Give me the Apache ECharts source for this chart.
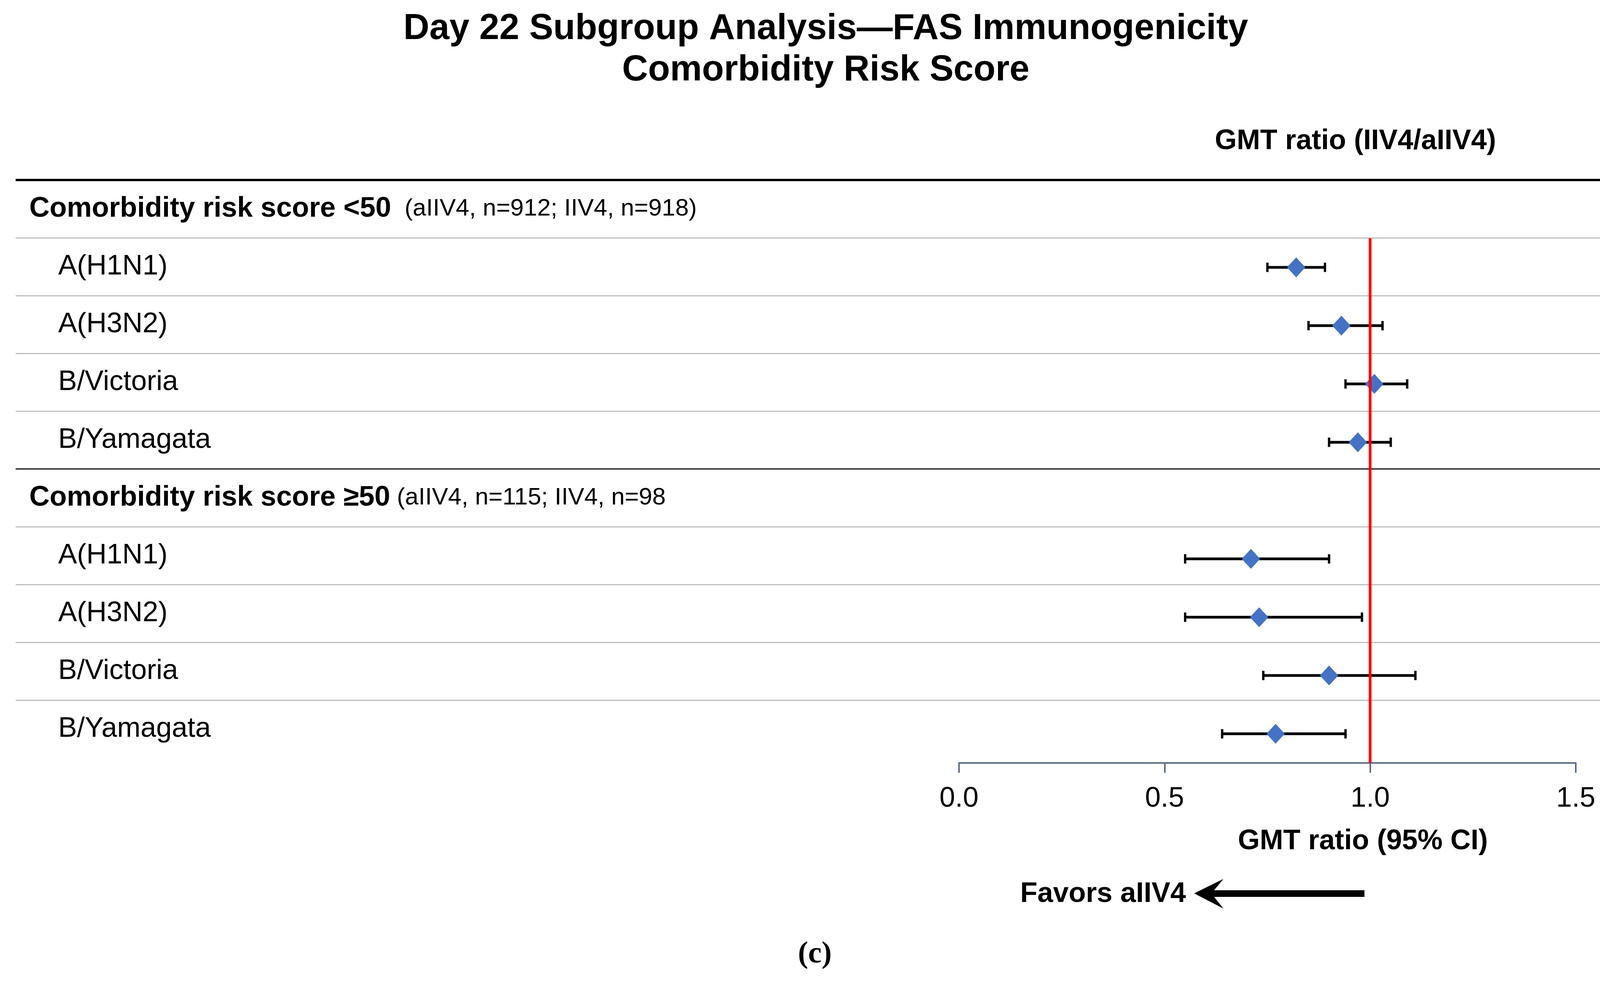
<!DOCTYPE html>
<html>
<head>
<meta charset="utf-8">
<script src="https://cdn.jsdelivr.net/npm/echarts@6/dist/echarts.min.js"></script>
<style>
html,body{margin:0;padding:0;background:#fff;}
#chart{width:4176px;height:2515px;}
</style>
</head>
<body>
<div id="chart"></div>
<script>
// ---- data ----
const groupNames = ['Comorbidity risk score <50', 'Comorbidity risk score \u226550'];
const groupNotes = ['(aIIV4, n=912; IIV4, n=918)', '(aIIV4, n=115; IIV4, n=98'];
const noteGaps = ['  ', ' '];
const strains = ['A(H1N1)', 'A(H3N2)', 'B/Victoria', 'B/Yamagata'];
const gmtLow50 = [0.82, 0.93, 1.01, 0.97];
const ciLowLow50 = [0.75, 0.85, 0.94, 0.90];
const ciHighLow50 = [0.89, 1.03, 1.09, 1.05];
const gmtHigh50 = [0.71, 0.73, 0.90, 0.77];
const ciLowHigh50 = [0.55, 0.55, 0.74, 0.64];
const ciHighHigh50 = [0.90, 0.98, 1.11, 0.94];
const xTickValues = [0.0, 0.5, 1.0, 1.5];
const referenceRatio = 1.0;

const groupGmt = [gmtLow50, gmtHigh50];
const groupLow = [ciLowLow50, ciLowHigh50];
const groupHigh = [ciHighLow50, ciHighHigh50];

// table rows (10): header, 4 strains, header, 4 strains
const tableRows = [];
groupNames.forEach((g, gi) => {
  tableRows.push({key: 'h' + gi, type: 'header', gi: gi});
  strains.forEach((s, si) => tableRows.push({key: 'r' + gi + '_' + si, type: 'strain', text: s}));
});
// plot rows (9): strains of group 1, header of group 2, strains of group 2
const plotRows = tableRows.slice(1).map(r => r.key);

const points = [];
const bars = [];
groupNames.forEach((g, gi) => {
  strains.forEach((s, si) => {
    const idx = plotRows.indexOf('r' + gi + '_' + si);
    points.push([groupGmt[gi][si], idx]);
    bars.push([idx, groupLow[gi][si], groupHigh[gi][si]]);
  });
});

const FONT = 'Liberation Sans';
const chart = echarts.init(document.getElementById('chart'));

const option = {
  animation: false,
  backgroundColor: '#ffffff',
  title: [
    {text: 'Day 22 Subgroup Analysis\u2014FAS Immunogenicity\nComorbidity Risk Score', left: 2114, top: 128, padding: 0,
     textAlign: 'center', textVerticalAlign: 'middle',
     textStyle: {fontFamily: FONT, fontSize: 92, fontWeight: 'bold', color: '#000', lineHeight: 106}},
    {text: 'GMT ratio (IIV4/aIIV4)', left: 3470, top: 362, padding: 0, textAlign: 'center', textVerticalAlign: 'middle',
     textStyle: {fontFamily: FONT, fontSize: 72, fontWeight: 'bold', color: '#000'}},
    {text: 'GMT ratio (95% CI)', left: 3489, top: 2155, padding: 0, textAlign: 'center', textVerticalAlign: 'middle',
     textStyle: {fontFamily: FONT, fontSize: 72, fontWeight: 'bold', color: '#000'}},
    {text: 'Favors aIIV4', left: 3036, top: 2290, padding: 0, textAlign: 'right', textVerticalAlign: 'middle',
     textStyle: {fontFamily: FONT, fontSize: 72, fontWeight: 'bold', color: '#000'}},
    {text: '(c)', left: 2086, top: 2445, padding: 0, textAlign: 'center', textVerticalAlign: 'middle',
     textStyle: {fontFamily: 'Liberation Serif', fontSize: 78, fontWeight: 'bold', color: '#000'}}
  ],
  graphic: [
    {type: 'polygon', z: 10, shape: {points: [[3057, 2288], [3132, 2251], [3108, 2280], [3493, 2280], [3493, 2297], [3108, 2297], [3132, 2327]]},
     style: {fill: '#000'}}
  ],
  grid: [
    {left: 40, right: 43, top: 461, height: 1480},
    {left: 2455, right: 142, top: 610, bottom: 561}
  ],
  xAxis: [
    {gridIndex: 0, type: 'value', min: 0, max: 1, show: false},
    {gridIndex: 1, type: 'value', min: 0, max: 1.5, interval: 0.5,
     axisLine: {show: true, lineStyle: {color: '#5B6B84', width: 4}},
     axisTick: {show: true, length: 25, lineStyle: {color: '#5B6B84', width: 4}},
     splitLine: {show: false},
     axisLabel: {fontFamily: FONT, fontSize: 72, color: '#000', margin: 56,
       formatter: v => xTickValues.includes(v) ? v.toFixed(1) : ''}}
  ],
  yAxis: [
    {gridIndex: 0, type: 'category', inverse: true, data: tableRows.map(r => r.key),
     axisLine: {show: false}, axisTick: {show: false}, splitLine: {show: false},
     axisLabel: {show: true, inside: true, margin: 35, interval: 0, hideOverlap: false,
       formatter: (val, i) => {
         const r = tableRows[i];
         if (r.type === 'header') return '{b|' + groupNames[r.gi] + '}{n|' + noteGaps[r.gi] + groupNotes[r.gi] + '}';
         return '{s|' + r.text + '}';
       },
       rich: {
         b: {fontFamily: FONT, fontSize: 72, fontWeight: 'bold', color: '#000'},
         n: {fontFamily: FONT, fontSize: 62, color: '#000'},
         s: {fontFamily: FONT, fontSize: 72, color: '#000', padding: [0, 0, 0, 74]}
       }}},
    {gridIndex: 0, type: 'value', min: 0, max: 10, inverse: true, show: false},
    {gridIndex: 1, type: 'category', inverse: true, data: plotRows, show: false}
  ],
  series: [
    {type: 'line', name: 'separators', xAxisIndex: 0, yAxisIndex: 1, data: [[0, 0]], showSymbol: false, symbol: 'none', z: 1,
     lineStyle: {opacity: 0}, silent: true,
     markLine: {silent: true, symbol: 'none', label: {show: false},
       data: tableRows.map((r, i) => ({
         yAxis: i,
         lineStyle: i === 0 ? {color: '#000', width: 6, type: 'solid'} :
                    (r.type === 'header' ? {color: '#404040', width: 4, type: 'solid'} : {color: '#BFBFBF', width: 3, type: 'solid'})
       }))}},
    {type: 'line', name: 'reference', xAxisIndex: 1, yAxisIndex: 2, data: [[referenceRatio, 0]], showSymbol: false, symbol: 'none', z: 2,
     lineStyle: {opacity: 0}, silent: true,
     markLine: {silent: true, symbol: 'none', label: {show: false},
       data: [{xAxis: referenceRatio, lineStyle: {color: '#FF0000', width: 7, type: 'solid'}}]}},
    {type: 'custom', name: 'CI', xAxisIndex: 1, yAxisIndex: 2, z: 3, data: bars,
     encode: {x: [1, 2], y: 0},
     renderItem: (params, api) => {
       const y = api.value(0);
       const lo = api.coord([api.value(1), y]);
       const hi = api.coord([api.value(2), y]);
       const h = 12;
       return {type: 'group', children: [
         {type: 'line', shape: {x1: lo[0], y1: lo[1], x2: hi[0], y2: hi[1]}, style: {stroke: '#000', lineWidth: 7}},
         {type: 'line', shape: {x1: lo[0], y1: lo[1] - h, x2: lo[0], y2: lo[1] + h}, style: {stroke: '#000', lineWidth: 6}},
         {type: 'line', shape: {x1: hi[0], y1: hi[1] - h, x2: hi[0], y2: hi[1] + h}, style: {stroke: '#000', lineWidth: 6}}
       ]};
     }},
    {type: 'scatter', name: 'GMT ratio', xAxisIndex: 1, yAxisIndex: 2, z: 4, data: points,
     symbol: 'diamond', symbolSize: [47, 51], itemStyle: {color: '#4472C4', opacity: 1}}
  ]
};
chart.setOption(option);
</script>
</body>
</html>
